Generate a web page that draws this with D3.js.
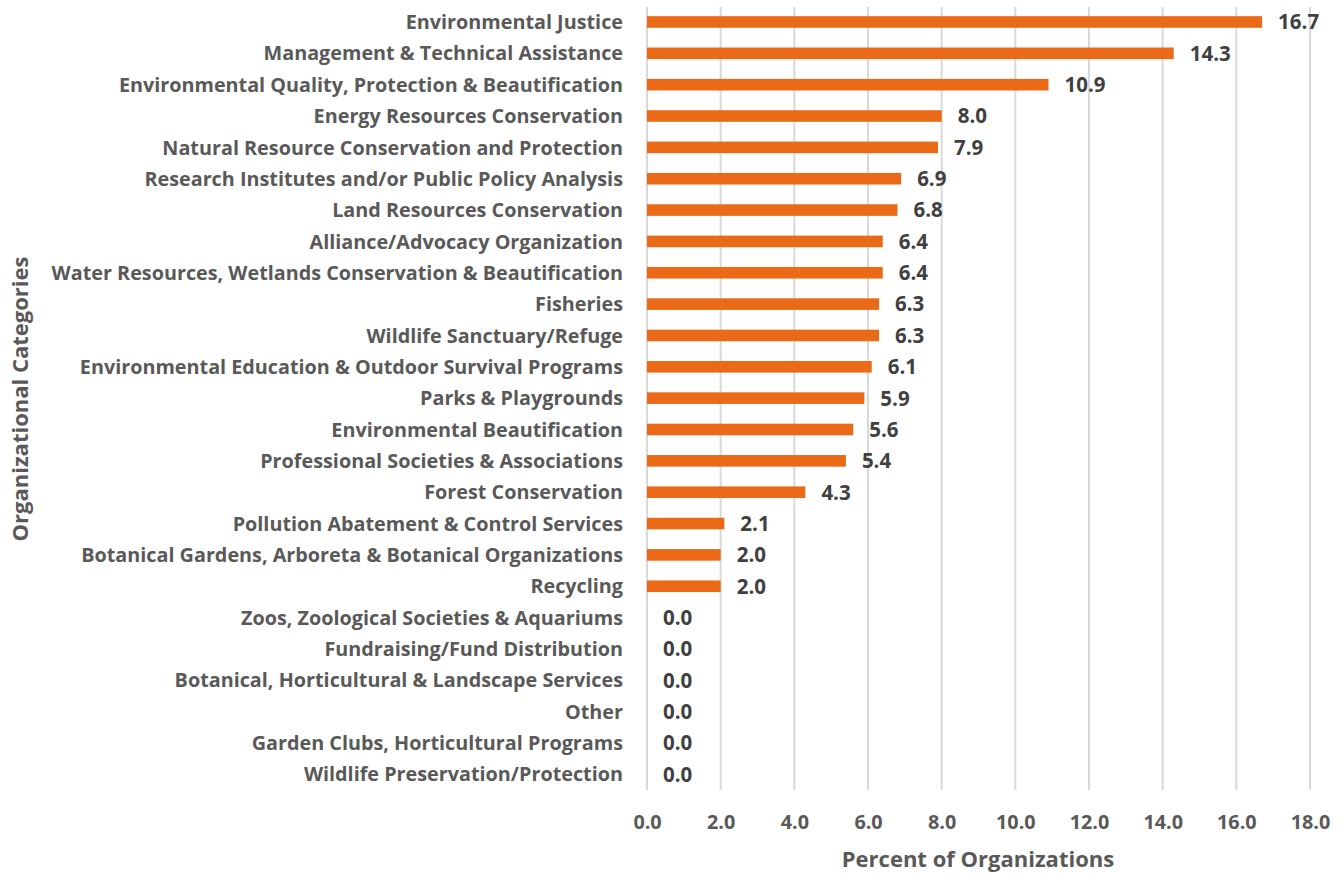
<!DOCTYPE html>
<html><head><meta charset="utf-8">
<script src="https://cdn.jsdelivr.net/npm/d3@7"></script>
<style>body{margin:0;background:#fff;} svg{display:block;}</style>
</head><body>
<svg id="c" width="1344" height="875"></svg>
<script>
const categories = ["Environmental Justice","Management & Technical Assistance","Environmental Quality, Protection & Beautification","Energy Resources Conservation","Natural Resource Conservation and Protection","Research Institutes and/or Public Policy Analysis","Land Resources Conservation","Alliance/Advocacy Organization","Water Resources, Wetlands Conservation & Beautification","Fisheries","Wildlife Sanctuary/Refuge","Environmental Education & Outdoor Survival Programs","Parks & Playgrounds","Environmental Beautification","Professional Societies & Associations","Forest Conservation","Pollution Abatement & Control Services","Botanical Gardens, Arboreta & Botanical Organizations","Recycling","Zoos, Zoological Societies & Aquariums","Fundraising/Fund Distribution","Botanical, Horticultural & Landscape Services","Other","Garden Clubs, Horticultural Programs","Wildlife Preservation/Protection"];
const values = [16.7,14.3,10.9,8.0,7.9,6.9,6.8,6.4,6.4,6.3,6.3,6.1,5.9,5.6,5.4,4.3,2.1,2.0,2.0,0.0,0.0,0.0,0.0,0.0,0.0];
const xTicks = [0,2,4,6,8,10,12,14,16,18];
const xTitle = "Percent of Organizations";
const yTitle = "Organizational Categories";

const FONT = "'Open Sans', sans-serif";
const FS = "19.8px";
const svg = d3.select("#c");
const x = d3.scaleLinear().domain([0,18]).range([647,1310]);
const y = d3.scaleBand().domain(categories).range([6.3,790]).paddingInner(0.63).paddingOuter(0.315);

// gridlines
svg.append("g").selectAll("line").data(xTicks).join("line")
  .attr("x1",d=>x(d)).attr("x2",d=>x(d)).attr("y1",7).attr("y2",790)
  .attr("stroke","#d9d9d9").attr("stroke-width",2);

// bars
svg.append("g").selectAll("rect").data(values).join("rect")
  .attr("x",x(0)).attr("y",(d,i)=>y(categories[i]))
  .attr("width",d=>x(d)-x(0)).attr("height",y.bandwidth())
  .attr("fill","#EA6A18");

// value labels
svg.append("g").selectAll("text").data(values).join("text")
  .attr("x",d=>x(d)+16).attr("y",(d,i)=>y(categories[i])+y.bandwidth()/2)
  .attr("dy","0.36em").attr("fill","#404040")
  .style("font-family",FONT).style("font-weight","700").style("font-size","20.5px")
  .text(d=>d.toFixed(1));

// category labels
const yAxis = d3.axisLeft(y).tickSize(0).tickPadding(24);
const gy = svg.append("g").attr("transform",`translate(${x(0)},0)`).call(yAxis);
gy.select(".domain").remove();
gy.selectAll("text").attr("fill","#595959").attr("dy","0.36em")
  .style("font-family",FONT).style("font-weight","700").style("font-size",FS);

// x axis ticks
const xAxis = d3.axisBottom(x).tickValues(xTicks).tickSize(0).tickPadding(0).tickFormat(d=>d.toFixed(1));
const gx = svg.append("g").attr("transform","translate(0,822)").call(xAxis);
gx.select(".domain").remove();
gx.selectAll("text").attr("fill","#595959").attr("dy","0.36em").attr("y",0)
  .style("font-family",FONT).style("font-weight","700").style("font-size",FS);

svg.append("text").attr("x",978).attr("y",859).attr("dy","0.36em").attr("text-anchor","middle")
  .attr("fill","#595959").style("font-family",FONT).style("font-weight","700").style("font-size","22px")
  .text(xTitle);
svg.append("text").attr("transform","translate(20,399) rotate(-90)").attr("dy","0.36em").attr("text-anchor","middle")
  .attr("fill","#595959").style("font-family",FONT).style("font-weight","700").style("font-size","22px")
  .text(yTitle);
</script>
</body></html>
